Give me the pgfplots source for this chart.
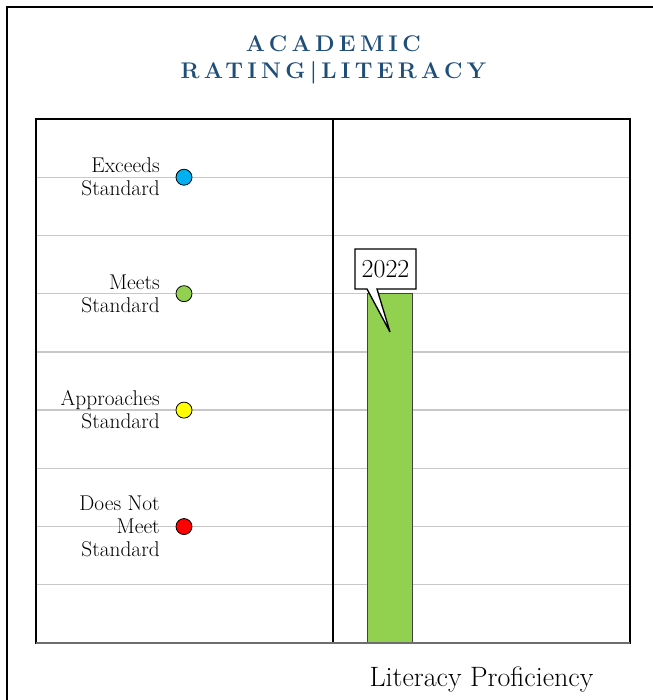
\documentclass[border=0pt]{standalone}
\usepackage{fontspec}
\usepackage{pgfplots}
\pgfplotsset{compat=1.18}
\newfontfamily\titlefont[LetterSpace=19]{Latin Modern Roman}
\definecolor{titleblue}{HTML}{1F4E79}
\definecolor{gridgray}{HTML}{C8C8C8}
\definecolor{exblue}{HTML}{00B0F0}
\definecolor{mgreen}{HTML}{92D050}
\definecolor{apyellow}{HTML}{FFFF00}
\definecolor{dnred}{HTML}{FF0000}
\definecolor{botgray}{HTML}{6E6E6E}
\begin{document}
\begin{tikzpicture}
\useasboundingbox (0,0) rectangle (489.75pt,525pt);
\begin{scope}
\clip (0,0) rectangle (489.75pt,525pt);
\draw[line width=1.8pt] (5.25pt,-10pt) -- (5.25pt,519.75pt) -- (500pt,519.75pt);
\end{scope}
\node[anchor=base, text=titleblue, font=\titlefont\fontsize{17}{20}\selectfont\bfseries] at (250pt,486pt) {ACADEMIC};
\node[anchor=base, text=titleblue, font=\titlefont\fontsize{17}{20}\selectfont\bfseries] at (250pt,465.75pt) {RATING|LITERACY};
\begin{axis}[
  at={(27pt,42.75pt)}, anchor=south west,
  width=445.5pt, height=393pt, scale only axis,
  xmin=0, xmax=594, ymin=0, ymax=9,
  xtick=\empty, ytick={1,2,...,8}, yticklabels={,,,,,,,,},
  major tick length=0pt,
  ymajorgrids, grid style={gridgray, line width=1pt},
  axis line style={line width=1.2pt},
  clip=false,
]
\addplot[ybar, bar width=45, fill=mgreen, draw=black!75, line width=0.5pt] coordinates {(353.5,6)};
\addplot[only marks, mark=*, mark size=6pt, mark options={fill=exblue, draw=black, line width=0.6pt}] coordinates {(148,8)};
\addplot[only marks, mark=*, mark size=6pt, mark options={fill=mgreen, draw=black, line width=0.6pt}] coordinates {(148,6)};
\addplot[only marks, mark=*, mark size=6pt, mark options={fill=apyellow, draw=black, line width=0.6pt}] coordinates {(148,4)};
\addplot[only marks, mark=*, mark size=6pt, mark options={fill=dnred, draw=black, line width=0.6pt}] coordinates {(148,2)};
\draw[line width=1.2pt] (axis cs:297,0) -- (axis cs:297,9);
\draw[botgray, line width=1.4pt] (axis cs:0,0) -- (axis cs:594,0);
\begin{scope}[font=\fontsize{16}{17.25}\selectfont]
\node[anchor=east, align=right, inner sep=0pt] at (axis cs:124,8) {Exceeds\\Standard};
\node[anchor=east, align=right, inner sep=0pt] at (axis cs:124,6) {Meets\\Standard};
\node[anchor=east, align=right, inner sep=0pt] at (axis cs:124,4) {Approaches\\Standard};
\node[anchor=east, align=right, inner sep=0pt] at (axis cs:124,2) {Does Not\\Meet\\Standard};
\end{scope}
\draw[fill=white, line width=1pt] (axis cs:319,6.767) -- (axis cs:380,6.767) -- (axis cs:380,6.080) -- (axis cs:341,6.080) -- (axis cs:354,5.342) -- (axis cs:331,6.080) -- (axis cs:319,6.080) -- cycle;
\node[font=\fontsize{19.5}{21}\selectfont] at (axis cs:349.5,6.43) {2022};
\node[anchor=base, font=\fontsize{21}{24}\selectfont] at (axis cs:445.5,-0.74) {Literacy Proficiency};
\end{axis}
\end{tikzpicture}
\end{document}
